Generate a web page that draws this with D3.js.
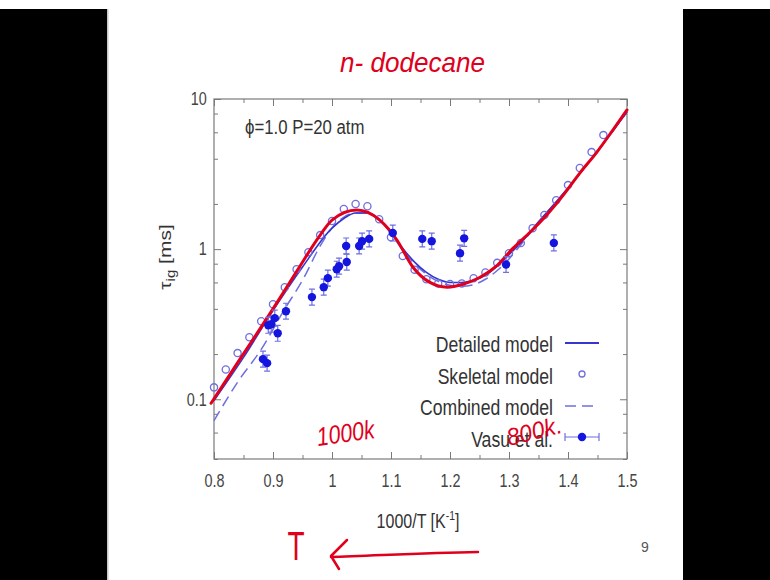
<!DOCTYPE html>
<html>
<head>
<meta charset="utf-8">
<script src="https://cdn.jsdelivr.net/npm/d3@7"></script>
<style>
body{margin:0;background:#fff;}
text{font-family:"Liberation Sans",Arial,sans-serif;}
</style>
</head>
<body>
<svg id="chart"></svg>
<script>
// x values are 1000/T [1/K], y values are ignition delay [ms]
var redX = [0.795,0.844,0.900,0.941,0.980,1.000,1.042,1.081,1.110,1.137,1.166,1.195,1.222,1.251,1.280,1.307,1.336,1.364,1.392,1.420,1.449,1.476,1.500];
var redY = [0.094,0.185,0.40,0.72,1.24,1.56,1.82,1.56,1.15,0.76,0.60,0.558,0.584,0.65,0.78,1.015,1.30,1.69,2.29,3.21,4.43,6.21,8.45];

var detailedX = [0.80,0.85,0.90,0.95,1.00,1.02,1.04,1.06,1.08,1.10,1.12,1.14,1.16,1.18,1.20,1.22,1.24,1.26,1.28,1.30,1.32,1.35,1.40,1.45,1.50];
var detailedY = [0.098,0.19,0.39,0.76,1.38,1.60,1.74,1.74,1.58,1.29,1.01,0.82,0.70,0.63,0.60,0.60,0.62,0.67,0.77,0.92,1.10,1.52,2.55,4.5,8.2];

var combinedX = [0.80,0.84,0.88,0.92,0.95,0.98,1.00,1.04,1.06,1.08,1.10,1.12,1.14,1.16,1.18,1.20,1.22,1.24,1.26,1.28,1.30,1.32,1.35,1.40,1.45,1.50];
var combinedY = [0.072,0.13,0.215,0.40,0.62,1.05,1.38,1.74,1.74,1.58,1.27,0.98,0.80,0.68,0.61,0.575,0.565,0.58,0.63,0.72,0.86,1.07,1.50,2.55,4.5,8.2];

var skeletalX = [0.80,0.82,0.84,0.86,0.88,0.90,0.92,0.94,0.96,0.98,1.00,1.02,1.04,1.06,1.08,1.10,1.12,1.14,1.16,1.18,1.20,1.22,1.24,1.26,1.28,1.30,1.32,1.34,1.36,1.38,1.40,1.42,1.44,1.46];
var skeletalY = [0.12,0.158,0.203,0.259,0.331,0.43,0.558,0.735,0.955,1.24,1.54,1.85,2.0,1.93,1.58,1.20,0.90,0.73,0.63,0.59,0.585,0.59,0.64,0.70,0.81,0.94,1.10,1.38,1.69,2.12,2.67,3.47,4.43,5.75];

var vasuX = [0.883,0.890,0.892,0.897,0.903,0.908,0.922,0.966,0.986,0.993,1.008,1.012,1.025,1.024,1.046,1.051,1.063,1.103,1.153,1.169,1.217,1.224,1.295,1.376];
var vasuY = [0.185,0.174,0.311,0.316,0.347,0.275,0.386,0.479,0.558,0.641,0.735,0.77,0.82,1.05,1.05,1.13,1.17,1.28,1.17,1.13,0.94,1.18,0.79,1.10];
var vasuErr = [0.13,0.13,0.13,0.13,0.13,0.13,0.13,0.13,0.13,0.13,0.13,0.13,0.13,0.13,0.13,0.13,0.13,0.13,0.13,0.13,0.13,0.13,0.13,0.13];

var xTicks = [0.8,0.9,1.0,1.1,1.2,1.3,1.4,1.5];
var xMinorTicks = [0.85,0.95,1.05,1.15,1.25,1.35,1.45];
var yTicks = [0.1,1,10];
var yMinorTicks = [0.04,0.06,0.08,0.2,0.4,0.6,0.8,2,4,6,8];

var legendLabels = ["Detailed model","Skeletal model","Combined model","Vasu et al."];

var blueLine = "#3535d0";
var blueLight = "#6f6fe0";
var blueDot = "#1515e0";
var red = "#e0001c";
var squeeze = 0.8;   // the slide is squashed sideways

var zip = function(xs,ys){
    return xs.map(function(x,i){ return {x:x,y:ys[i]}; });
}

var initGraph = function(target)
{
    var screen = {width:770, height:580};
    var margins = {top:99,bottom:121,left:214,right:143};
    var graph = {
        width:screen.width-margins.left-margins.right,
        height:screen.height-margins.top-margins.bottom
    }

    var svg = d3.select(target)
        .attr("width",screen.width)
        .attr("height",screen.height);

    //slide borders
    svg.append("rect").attr("x",0).attr("y",9).attr("width",107).attr("height",571).attr("fill","#000");
    svg.append("rect").attr("x",683).attr("y",9).attr("width",87).attr("height",571).attr("fill","#000");
    svg.append("rect").attr("x",107).attr("y",9).attr("width",1.5).attr("height",571).attr("fill","#c8c8c8");

    var xScale = d3.scaleLinear()
        .domain([0.8,1.5])
        .range([0,graph.width]);
    var yScale = d3.scaleLog()
        .domain([0.04,10])
        .range([graph.height,0]);

    var g = svg.append("g")
        .attr("transform","translate("+margins.left+","+margins.top+")");

    createAxes(g,graph,xScale,yScale);
    drawLines(g,xScale,yScale);
    drawPoints(g,xScale,yScale);
    drawLegend(g,graph);
    drawTexts(svg,margins,graph);
    drawNotes(svg);
}

var styleAxis = function(sel,size)
{
    sel.attr("color","#7a7a7a")
        .attr("font-family","Liberation Sans, Arial, sans-serif")
        .attr("font-size",size);
    sel.select(".domain").remove();
    sel.selectAll("text").attr("fill","#444")
        .attr("transform","scale("+squeeze+",1)");
}

var createAxes = function(g,graph,xScale,yScale)
{
    var fmt = function(d){ return d3.format("")(d); };

    g.append("g").attr("transform","translate(0,"+graph.height+")")
        .call(d3.axisBottom(xScale).tickValues(xTicks).tickFormat(fmt)
              .tickSizeInner(-7).tickSizeOuter(0).tickPadding(15))
        .call(styleAxis,18);
    g.append("g").attr("transform","translate(0,"+graph.height+")")
        .call(d3.axisBottom(xScale).tickValues(xMinorTicks).tickFormat("")
              .tickSizeInner(-4).tickSizeOuter(0))
        .call(styleAxis,18);
    g.append("g")
        .call(d3.axisTop(xScale).tickValues(xTicks).tickFormat("")
              .tickSizeInner(-7).tickSizeOuter(0))
        .call(styleAxis,18);
    g.append("g")
        .call(d3.axisTop(xScale).tickValues(xMinorTicks).tickFormat("")
              .tickSizeInner(-4).tickSizeOuter(0))
        .call(styleAxis,18);

    g.append("g")
        .call(d3.axisLeft(yScale).tickValues(yTicks).tickFormat(fmt)
              .tickSizeInner(-7).tickSizeOuter(0).tickPadding(9))
        .call(styleAxis,18);
    g.append("g")
        .call(d3.axisLeft(yScale).tickValues(yMinorTicks).tickFormat("")
              .tickSizeInner(-4).tickSizeOuter(0))
        .call(styleAxis,18);
    g.append("g").attr("transform","translate("+graph.width+",0)")
        .call(d3.axisRight(yScale).tickValues(yTicks).tickFormat("")
              .tickSizeInner(-7).tickSizeOuter(0))
        .call(styleAxis,18);
    g.append("g").attr("transform","translate("+graph.width+",0)")
        .call(d3.axisRight(yScale).tickValues(yMinorTicks).tickFormat("")
              .tickSizeInner(-4).tickSizeOuter(0))
        .call(styleAxis,18);

    g.append("rect")
        .attr("width",graph.width)
        .attr("height",graph.height)
        .attr("fill","none")
        .attr("stroke","#7a7a7a")
        .attr("stroke-width",1.2);
}

var drawLines = function(g,xScale,yScale)
{
    var line = d3.line()
        .x(function(d){ return xScale(d.x); })
        .y(function(d){ return yScale(d.y); })
        .curve(d3.curveMonotoneX);

    g.append("path")
        .datum(zip(combinedX,combinedY))
        .attr("d",line)
        .attr("fill","none")
        .attr("stroke",blueLight)
        .attr("stroke-width",1.5)
        .attr("stroke-dasharray","11,6");

    g.append("path")
        .datum(zip(detailedX,detailedY))
        .attr("d",line)
        .attr("fill","none")
        .attr("stroke",blueLine)
        .attr("stroke-width",1.6);

    g.append("g").selectAll("circle")
        .data(zip(skeletalX,skeletalY))
        .enter()
        .append("circle")
        .attr("cx",function(d){ return xScale(d.x); })
        .attr("cy",function(d){ return yScale(d.y); })
        .attr("r",3.6)
        .attr("fill","none")
        .attr("stroke",blueLight)
        .attr("stroke-width",1.3);

    g.append("path")
        .datum(zip(redX,redY))
        .attr("d",line)
        .attr("fill","none")
        .attr("stroke",red)
        .attr("stroke-width",3)
        .attr("stroke-linecap","round");
}

var drawPoints = function(g,xScale,yScale)
{
    var pts = vasuX.map(function(x,i){
        return {x:x,y:vasuY[i],lo:vasuY[i]/(1+vasuErr[i]),hi:vasuY[i]*(1+vasuErr[i])};
    });
    var bars = g.append("g")
        .attr("stroke",blueLight)
        .attr("stroke-width",1.2);
    bars.selectAll(".eb")
        .data(pts)
        .enter()
        .append("path")
        .attr("d",function(d){
            var x = xScale(d.x), y1 = yScale(d.lo), y2 = yScale(d.hi);
            return "M"+x+","+y1+"V"+y2+
                "M"+(x-3)+","+y1+"h6M"+(x-3)+","+y2+"h6";
        });
    g.append("g").selectAll("circle")
        .data(pts)
        .enter()
        .append("circle")
        .attr("cx",function(d){ return xScale(d.x); })
        .attr("cy",function(d){ return yScale(d.y); })
        .attr("r",4.2)
        .attr("fill",blueDot);
}

var drawLegend = function(g,graph)
{
    // legend text right edge sits at x=553, first row at y=343 on the page
    var leg = g.append("g").attr("transform","translate(339,244)");
    leg.selectAll("text")
        .data(legendLabels)
        .enter()
        .append("text")
        .attr("transform",function(d,i){ return "translate(0,"+(i*31.5+9)+") scale("+squeeze+",1)"; })
        .attr("text-anchor","end")
        .attr("font-size",22)
        .attr("fill","#333")
        .text(function(d){ return d; });

    var sx = 12, ex = 46, mx = 29;
    leg.append("line").attr("x1",sx).attr("x2",ex).attr("y1",0).attr("y2",0)
        .attr("stroke",blueLine).attr("stroke-width",1.8);
    leg.append("circle").attr("cx",mx).attr("cy",31).attr("r",3)
        .attr("fill","none").attr("stroke",blueLight).attr("stroke-width",1.3);
    leg.append("line").attr("x1",sx).attr("x2",ex).attr("y1",63).attr("y2",63)
        .attr("stroke",blueLight).attr("stroke-width",1.5).attr("stroke-dasharray","11,6");
    leg.append("path")
        .attr("d","M"+sx+",94H"+ex+"M"+sx+",90v8M"+ex+",90v8")
        .attr("stroke",blueLight).attr("stroke-width",1.2).attr("fill","none");
    leg.append("circle").attr("cx",mx).attr("cy",94).attr("r",4.2).attr("fill",blueDot);
}

var drawTexts = function(svg,margins,graph)
{
    svg.append("text")
        .attr("transform","translate(245,134) scale("+squeeze+",1)")
        .attr("font-size",21)
        .attr("fill","#333")
        .text("\u03d5=1.0 P=20 atm");

    var xl = svg.append("text")
        .attr("transform","translate(418,528) scale("+squeeze+",1)")
        .attr("text-anchor","middle")
        .attr("font-size",20)
        .attr("fill","#333");
    xl.append("tspan").text("1000/T [K");
    xl.append("tspan").attr("font-size",13).attr("dy",-8).text("-1");
    xl.append("tspan").attr("dy",8).text("]");

    var yl = svg.append("text")
        .attr("transform","translate(171,257) rotate(-90) scale(1,"+squeeze+")")
        .attr("text-anchor","middle")
        .attr("font-size",21)
        .attr("fill","#333");
    yl.append("tspan").text("\u03c4");
    yl.append("tspan").attr("font-size",15).attr("dy",5).text("ig");
    yl.append("tspan").attr("dy",-5).text(" [ms]");

    svg.append("text")
        .attr("x",645).attr("y",552)
        .attr("text-anchor","middle")
        .attr("font-size",14)
        .attr("fill","#555")
        .text("9");
}

var drawNotes = function(svg)
{
    var hand = "DejaVu Sans, sans-serif";
    svg.append("text")
        .attr("x",340).attr("y",72)
        .attr("textLength",145).attr("lengthAdjust","spacingAndGlyphs")
        .attr("font-family",hand).attr("font-style","italic")
        .attr("font-size",28).attr("fill",red)
        .text("n- dodecane");
    svg.append("text")
        .attr("transform","translate(318,446) rotate(-8)")
        .attr("textLength",58).attr("lengthAdjust","spacingAndGlyphs")
        .attr("font-family",hand).attr("font-style","italic")
        .attr("font-size",26).attr("fill",red)
        .text("1000k");
    svg.append("text")
        .attr("transform","translate(509,446) rotate(-14)")
        .attr("textLength",56).attr("lengthAdjust","spacingAndGlyphs")
        .attr("font-family",hand).attr("font-style","italic")
        .attr("font-size",24).attr("fill",red)
        .text("800k.");
    svg.append("text")
        .attr("transform","translate(296,560) scale(0.7,1)")
        .attr("text-anchor","middle")
        .attr("font-family","Liberation Sans, Arial, sans-serif")
        .attr("font-size",40).attr("fill",red)
        .text("T");
    svg.append("path")
        .attr("d","M478,552C420,553 370,556 331,557M347,540L331,556L339,569")
        .attr("fill","none").attr("stroke",red).attr("stroke-width",2.5)
        .attr("stroke-linecap","round").attr("stroke-linejoin","round");
}

initGraph("#chart");
</script>
</body>
</html>
